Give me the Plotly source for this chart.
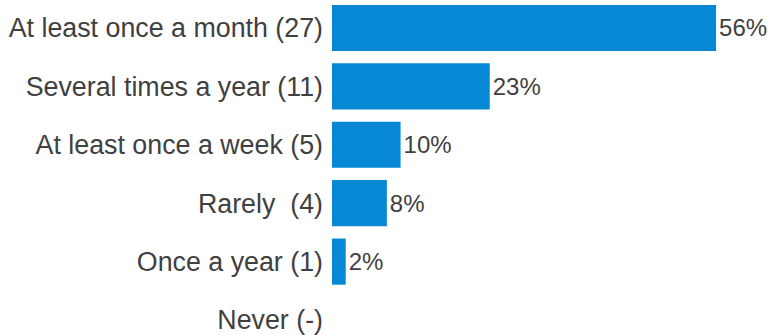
import plotly.graph_objects as go

categories = [
    "At least once a month (27)",
    "Several times a year (11)",
    "At least once a week (5)",
    "Rarely  (4)",
    "Once a year (1)",
    "Never (-)",
]
percent = [56, 23, 10, 8, 2, None]
labels = ["56%", "23%", "10%", "8%", "2%", ""]

BAR_COLOR = "#0788D4"
TEXT_COLOR = "#404040"
FONT = "Liberation Sans, Arial, sans-serif"

fig = go.Figure(
    go.Bar(
        x=percent,
        y=categories,
        orientation="h",
        marker=dict(color=BAR_COLOR, line=dict(width=0)),
        text=labels,
        textposition="outside",
        textfont=dict(family=FONT, size=24, color=TEXT_COLOR),
        cliponaxis=False,
        hoverinfo="skip",
    )
)

fig.update_layout(
    width=773,
    height=335,
    margin=dict(l=332, r=0, t=0, b=0),
    paper_bgcolor="white",
    plot_bgcolor="white",
    bargap=0.21,
    showlegend=False,
    font=dict(family=FONT, size=24, color=TEXT_COLOR),
    xaxis=dict(
        range=[0, 64.3],
        visible=False,
        fixedrange=True,
    ),
    yaxis=dict(
        type="category",
        categoryorder="array",
        categoryarray=categories,
        range=[5.257, -0.479],
        showgrid=False,
        zeroline=False,
        showline=False,
        ticks="",
        ticklabelstandoff=8,
        tickfont=dict(family=FONT, size=26.8, color=TEXT_COLOR),
        fixedrange=True,
    ),
)

fig.write_html("out.html")
